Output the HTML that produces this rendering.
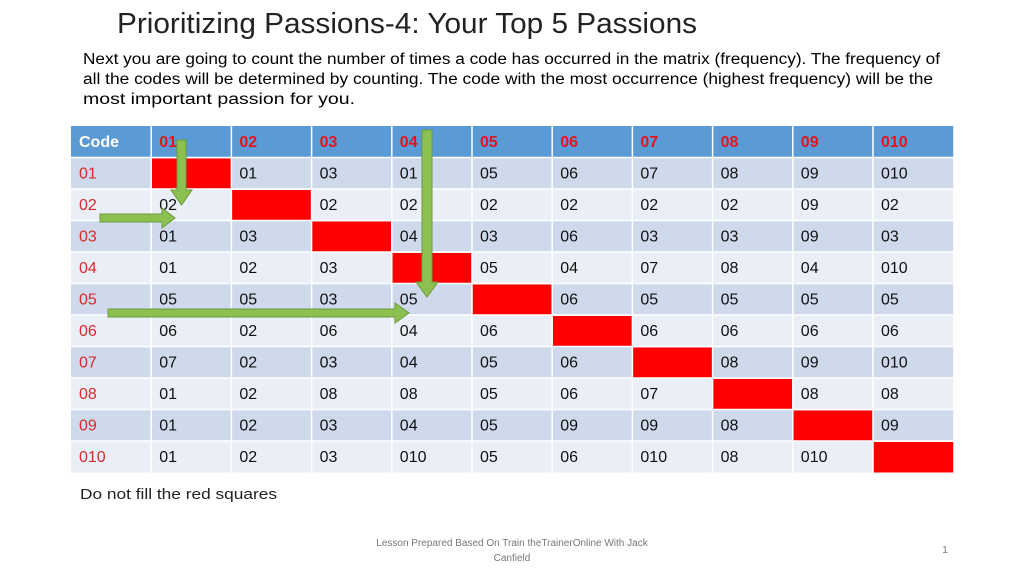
<!DOCTYPE html>
<html><head><style>body{margin:0;background:#fff}svg{display:block}text{font-family:"Liberation Sans",sans-serif}</style></head><body>
<svg width="1024" height="576" xmlns="http://www.w3.org/2000/svg">
<text x="117" y="33" font-size="29" fill="#222" textLength="580" lengthAdjust="spacingAndGlyphs">Prioritizing Passions-4: Your Top 5 Passions</text>
<g font-size="15.5" fill="#000">
<text x="83" y="64" textLength="857" lengthAdjust="spacingAndGlyphs">Next you are going to count the number of times a code has occurred in the matrix (frequency). The frequency of</text>
<text x="83" y="84" textLength="850" lengthAdjust="spacingAndGlyphs">all the codes will be determined by counting. The code with the most occurrence (highest frequency)  will be the</text>
<text x="83" y="104" textLength="272" lengthAdjust="spacingAndGlyphs">most important passion for you.</text>
</g>
<g id="t"></g>
<text x="80" y="499" font-size="15" fill="#222" textLength="197" lengthAdjust="spacingAndGlyphs">Do not fill the red squares</text>
<text x="512" y="546" font-size="10" fill="#777" text-anchor="middle">Lesson Prepared  Based On Train theTrainerOnline With Jack</text>
<text x="512" y="561" font-size="10" fill="#777" text-anchor="middle">Canfield</text>
<text x="945" y="553" font-size="10" fill="#777" text-anchor="middle">1</text>
<g fill="#8cc152" stroke="#6a9a3a" stroke-width="1">
<path d="M177,140 h9 v50 h6 l-10.5,15 l-10.5,-15 h6 z"/>
<path d="M100,214 h62 v-6 l13,10 l-13,10 v-6 h-62 z"/>
<path d="M422,130 h10 v152 h6 l-11,15 l-11,-15 h6 z"/>
<path d="M108,309 h287 v-6 l14,10 l-14,10 v-6 h-287 z"/>
</g>
</svg>
<script>
const d=[["01","","01","03","01","05","06","07","08","09","010"],
["02","02","","02","02","02","02","02","02","09","02"],
["03","01","03","","04","03","06","03","03","09","03"],
["04","01","02","03","","05","04","07","08","04","010"],
["05","05","05","03","05","","06","05","05","05","05"],
["06","06","02","06","04","06","","06","06","06","06"],
["07","07","02","03","04","05","06","","08","09","010"],
["08","01","02","08","08","05","06","07","","08","08"],
["09","01","02","03","04","05","09","09","08","","09"],
["010","01","02","03","010","05","06","010","08","010",""]];
const hd=["Code","01","02","03","04","05","06","07","08","09","010"];
let s="";const x0=71,cw=80.2,y0=126,rh=31.5;
s+=`<rect x="${x0}" y="${y0}" width="${cw*11}" height="${rh}" fill="#5b9bd5"/>`;
hd.forEach((h,i)=>{s+=`<text x="${x0+i*cw+8}" y="${y0+21}" font-size="16" font-weight="bold" fill="${i?'#e8131a':'#fff'}">${h}</text>`});
d.forEach((r,j)=>{const y=y0+rh*(j+1);
s+=`<rect x="${x0}" y="${y}" width="${cw*11}" height="${rh}" fill="${j%2?'#e9eef7':'#cfd9ec'}"/>`;
r.forEach((c,i)=>{if(i==j+1)s+=`<rect x="${x0+i*cw}" y="${y+1}" width="${cw}" height="${rh-1}" fill="#ff0000"/>`;
else s+=`<text x="${x0+i*cw+8}" y="${y+21}" font-size="16" fill="${i?'#111':'#d62b2b'}">${c}</text>`});});
for(let i=1;i<11;i++)s+=`<line x1="${x0+i*cw}" y1="${y0}" x2="${x0+i*cw}" y2="${y0+rh*11}" stroke="#fff" stroke-width="1.5"/>`;
for(let j=1;j<11;j++)s+=`<line x1="${x0}" y1="${y0+rh*j}" x2="${x0+cw*11}" y2="${y0+rh*j}" stroke="#fff" stroke-width="1.5"/>`;
document.getElementById("t").innerHTML=s;
</script>
</body></html>
